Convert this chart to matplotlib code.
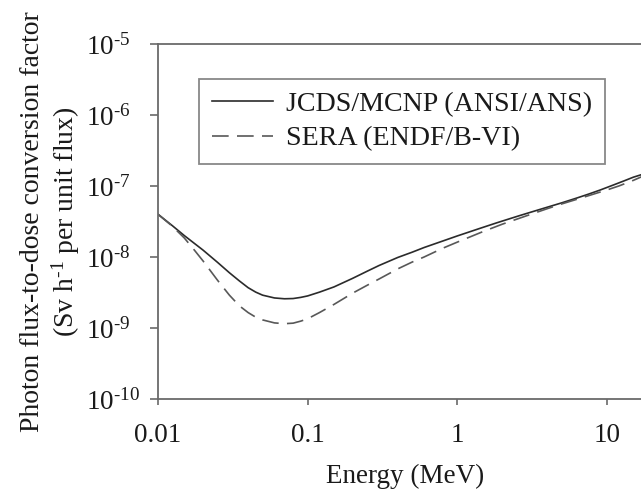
import math

import matplotlib
matplotlib.use("Agg")
import matplotlib.pyplot as plt
from matplotlib.ticker import FixedLocator, FuncFormatter

plt.rcParams["font.family"] = ["Liberation Serif", "DejaVu Serif"]
plt.rcParams["mathtext.fontset"] = "custom"
plt.rcParams["mathtext.rm"] = "Liberation Serif"
plt.rcParams["mathtext.it"] = "Liberation Serif:italic"

# photon energy (MeV) and flux-to-dose factor (Sv h^-1 per unit flux)
energy_jcds = [0.01, 0.0125, 0.015, 0.02, 0.025, 0.03, 0.035, 0.04, 0.045, 0.05,
               0.06, 0.07, 0.08, 0.09, 0.1, 0.12, 0.15, 0.2, 0.25, 0.3, 0.4,
               0.5, 0.6, 0.8, 1.0, 1.4, 1.8, 2.2, 2.6, 3.25, 4.25, 5.0, 6.25,
               7.5, 9.0, 11.0, 13.0, 15.0, 18.0]
dose_jcds = [4.0e-8, 2.75e-8, 2.0e-8, 1.25e-8, 8.4e-9, 6.0e-9, 4.6e-9, 3.7e-9,
             3.2e-9, 2.9e-9, 2.65e-9, 2.58e-9, 2.6e-9, 2.7e-9, 2.83e-9, 3.2e-9,
             3.79e-9, 5.01e-9, 6.31e-9, 7.59e-9, 9.85e-9, 1.17e-8, 1.36e-8,
             1.68e-8, 1.98e-8, 2.51e-8, 2.99e-8, 3.42e-8, 3.82e-8, 4.41e-8,
             5.23e-8, 5.80e-8, 6.74e-8, 7.66e-8, 8.77e-8, 1.03e-7, 1.18e-7,
             1.33e-7, 1.5e-7]

energy_sera = [0.01, 0.0125, 0.015, 0.0175, 0.02, 0.025, 0.03, 0.035, 0.04,
               0.045, 0.05, 0.06, 0.07, 0.08, 0.09, 0.1, 0.12, 0.15, 0.2, 0.25,
               0.3, 0.4, 0.5, 0.6, 0.8, 1.0, 1.5, 2.0, 3.0, 4.0, 5.0, 6.0, 8.0,
               10.0, 12.0, 15.0, 18.0]
dose_sera = [4.0e-8, 2.7e-8, 1.85e-8, 1.25e-8, 8.8e-9, 4.7e-9, 2.9e-9, 2.05e-9,
             1.65e-9, 1.42e-9, 1.3e-9, 1.18e-9, 1.15e-9, 1.17e-9, 1.25e-9,
             1.35e-9, 1.65e-9, 2.15e-9, 3.1e-9, 4.0e-9, 4.9e-9, 6.8e-9, 8.5e-9,
             1.0e-8, 1.33e-8, 1.62e-8, 2.3e-8, 2.9e-8, 3.9e-8, 4.8e-8, 5.6e-8,
             6.3e-8, 7.6e-8, 8.8e-8, 1.0e-7, 1.2e-7, 1.42e-7]

x_ticks = [0.01, 0.1, 1, 10]
y_ticks = [1e-10, 1e-9, 1e-8, 1e-7, 1e-6, 1e-5]


def pow_label(v, pos):
    exp = round(math.log10(v))
    return "10$^{\\mathrm{%s}}$" % str(exp).replace("-", "\u2010")


fig = plt.figure(figsize=(6.41, 4.93), dpi=100)
ax = fig.add_axes([158 / 641, 1 - 399 / 493, 494 / 641, 355 / 493])

ax.plot(energy_jcds, dose_jcds, color="#2b2b2b", lw=1.2, label="JCDS/MCNP (ANSI/ANS)")
ax.plot(energy_sera, dose_sera, color="#585858", lw=1.2, dashes=(10, 5),
        label="SERA (ENDF/B-VI)")

ax.set_xscale("log")
ax.set_yscale("log")
ax.set_xlim(0.01, 20)
ax.set_ylim(1e-10, 1e-5)
ax.xaxis.set_major_locator(FixedLocator(x_ticks))
ax.yaxis.set_major_locator(FixedLocator(y_ticks))
ax.xaxis.set_minor_locator(FixedLocator([]))
ax.yaxis.set_minor_locator(FixedLocator([]))
ax.xaxis.set_major_formatter(FuncFormatter(lambda v, p: f"{v:g}"))
ax.yaxis.set_major_formatter(FuncFormatter(pow_label))

for s in ax.spines.values():
    s.set_color("#6a6a6a")
    s.set_linewidth(1.3)
ax.tick_params(axis="both", direction="out", color="#6a6a6a", width=1.2,
               labelsize=19.5, labelcolor="#1a1a1a")
ax.tick_params(axis="x", length=4, pad=13)
ax.tick_params(axis="y", length=6, pad=46)
for lbl in ax.get_yticklabels():
    lbl.set_horizontalalignment("left")

ax.set_xlabel("Energy (MeV)", fontsize=19.5, color="#1a1a1a", labelpad=12)
fig.text(51 / 641, 1 - 222 / 493,
         "Photon flux-to-dose conversion factor\n(Sv h$^{\\mathrm{\u20101}}$ per unit flux)",
         rotation=90, ha="center", va="center", multialignment="center",
         fontsize=20, color="#1a1a1a", linespacing=1.2)

leg = ax.legend(loc="upper left", bbox_to_anchor=(199 / 641, 1 - 79 / 493),
                bbox_transform=fig.transFigure, fontsize=20.2, frameon=True,
                fancybox=False, borderpad=0.45, labelspacing=0.3,
                handlelength=2.2, handletextpad=0.45, borderaxespad=0)
leg.get_frame().set_edgecolor("#6a6a6a")
leg.get_frame().set_linewidth(1.3)
for t in leg.get_texts():
    t.set_color("#1a1a1a")

fig.savefig("out.png", dpi=100)
